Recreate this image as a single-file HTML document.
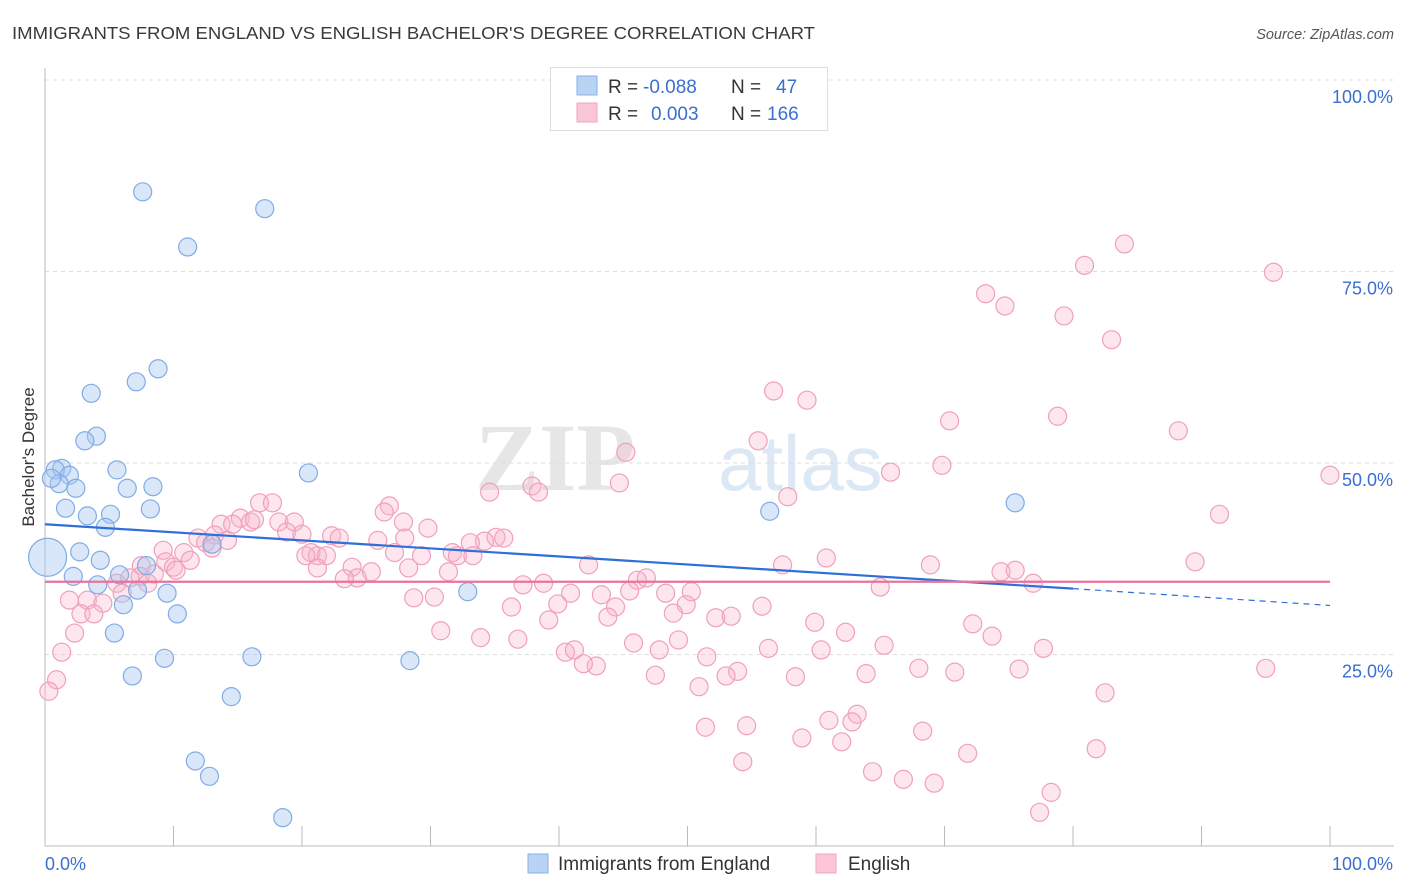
<!DOCTYPE html>
<html><head><meta charset="utf-8"><style>
body{margin:0;background:#fff;font-family:"Liberation Sans",sans-serif}
svg{display:block}
</style></head><body>
<svg id="chart" width="1406" height="892" viewBox="0 0 1406 892">
<text x="12" y="39" font-size="17.5" fill="#3a3a3a" textLength="803" lengthAdjust="spacingAndGlyphs">IMMIGRANTS FROM ENGLAND VS ENGLISH BACHELOR'S DEGREE CORRELATION CHART</text>
<text x="1394" y="39" font-size="14.5" fill="#555" font-style="italic" text-anchor="end">Source: ZipAtlas.com</text>
<g>
<text x="635" y="490" font-size="96" font-family="Liberation Serif,serif" fill="#e6e6e6" text-anchor="end" font-weight="bold">ZIP</text>
<text x="718" y="490" font-size="78" fill="#dde8f5">atlas</text>
</g>
<g id="grid"></g>
<g id="axes"></g>
<text x="34" y="457" font-size="17" fill="#333" text-anchor="middle" transform="rotate(-90 34 457)">Bachelor's Degree</text>
<g id="pinkPts"></g>
<g id="bluePts"></g>
<g id="trends"></g>
<g>
<rect x="550.5" y="67.5" width="277" height="63" fill="#fff" stroke="#ddd"/>
<rect x="577" y="76" width="20" height="19" fill="#b9d3f5" stroke="#85b0e8"/>
<rect x="577" y="103" width="20" height="19" fill="#fbc6d6" stroke="#f0a5bd"/>
<text y="93" font-size="19" fill="#333"><tspan x="608">R =</tspan><tspan x="643" fill="#3a6fd0">-0.088</tspan><tspan x="731">N =</tspan><tspan x="776" fill="#3a6fd0">47</tspan></text>
<text y="120" font-size="19" fill="#333"><tspan x="608">R =</tspan><tspan x="651" fill="#3a6fd0">0.003</tspan><tspan x="731">N =</tspan><tspan x="767" fill="#3a6fd0">166</tspan></text>
</g>
<g>
<rect x="528" y="854" width="20" height="19" fill="#b9d3f5" stroke="#85b0e8"/>
<text x="558" y="870" font-size="19" fill="#333">Immigrants from England</text>
<rect x="816" y="854" width="20" height="19" fill="#fbc6d6" stroke="#f0a5bd"/>
<text x="848" y="870" font-size="19" fill="#333">English</text>
</g>
</svg>
<script>
const yTicks=[25,50,75,100];
const yTickLabels=["25.0%","50.0%","75.0%","100.0%"];
const xTickLabels=["0.0%","100.0%"];
const blueX=[7.6,17.1,11.1,8.8,7.1,3.6,4.0,3.1,1.3,0.8,1.9,1.1,2.4,5.6,6.4,8.4,20.5,1.6,3.3,5.1,8.2,4.7,2.7,4.3,2.2,5.8,7.9,4.1,7.2,9.5,6.1,10.3,5.4,9.3,16.1,6.8,14.5,11.7,12.8,18.5,28.4,32.9,13.0,56.4,75.5,0.2,0.5];
const blueY=[85.4,83.2,78.2,62.3,60.6,59.1,53.5,52.9,49.3,49.1,48.4,47.3,46.7,49.1,46.7,46.9,48.7,44.1,43.1,43.3,44.0,41.6,38.4,37.3,35.2,35.4,36.6,34.1,33.4,33.0,31.5,30.3,27.8,24.5,24.7,22.2,19.5,11.1,9.1,3.7,24.2,33.2,39.4,43.7,44.8,37.7,48.0];
const pinkX=[84.0,80.9,95.6,73.2,74.7,79.3,83.0,56.7,59.3,70.4,78.8,88.2,55.5,45.2,69.8,65.8,44.7,100,34.6,37.9,38.4,57.8,91.4,16.7,17.7,26.8,26.4,15.2,13.7,14.6,16.0,16.3,18.2,19.4,27.9,29.8,18.8,20.0,22.3,22.9,25.9,28.0,11.9,13.2,12.5,14.2,13.0,35.1,35.7,34.2,33.1,9.2,10.8,20.7,21.2,21.9,20.3,27.2,29.3,31.7,32.1,33.3,9.4,10.0,7.5,11.3,60.8,42.3,57.4,68.9,89.5,23.9,25.4,21.2,28.3,31.4,7.4,8.5,10.2,5.6,6.6,8.0,24.3,23.3,38.8,37.2,46.1,46.8,74.4,75.5,76.9,65.0,50.3,48.3,45.5,40.9,43.3,28.7,30.3,1.9,3.3,4.5,6.0,39.9,44.4,49.9,36.3,55.8,2.8,3.8,48.9,43.8,52.2,53.4,39.2,59.9,72.2,30.8,2.3,62.3,49.3,45.8,33.9,36.8,73.7,77.7,56.3,65.3,47.8,60.4,40.5,41.2,51.5,95.0,1.3,42.9,41.9,53.9,68.0,75.8,47.5,53.0,63.9,70.8,58.4,0.9,50.9,0.3,82.5,54.6,63.2,61.0,62.8,51.4,68.3,58.9,62.0,81.8,71.8,54.3,64.4,66.8,69.2,78.3,77.4];
const pinkY=[78.6,75.8,74.9,72.1,70.5,69.2,66.1,59.4,58.2,55.5,56.1,54.2,52.9,51.4,49.7,48.8,47.4,48.4,46.2,47.0,46.2,45.6,43.3,44.8,44.8,44.4,43.6,42.8,42.0,42.0,42.3,42.6,42.3,42.3,42.3,41.5,41.0,40.7,40.5,40.2,39.9,40.2,40.2,40.6,39.6,39.9,38.9,40.3,40.2,39.8,39.6,38.6,38.3,38.3,37.9,37.9,37.9,38.3,37.9,38.3,37.9,37.9,37.1,36.4,36.6,37.3,37.6,36.7,36.7,36.7,37.1,36.4,35.8,36.3,36.3,35.8,35.2,35.5,36.0,34.3,35.0,34.3,35.0,34.9,34.3,34.1,34.7,35.0,35.8,36.0,34.3,33.8,33.2,33.0,33.3,33.0,32.8,32.4,32.5,32.1,32.1,31.7,33.0,31.6,31.2,31.5,31.2,31.3,30.3,30.3,30.4,29.9,29.8,30.0,29.5,29.2,29.0,28.1,27.8,27.9,26.9,26.5,27.2,27.0,27.4,25.8,25.8,26.2,25.6,25.6,25.3,25.6,24.7,23.2,25.3,23.5,23.8,22.8,23.2,23.1,22.3,22.2,22.5,22.7,22.1,21.7,20.8,20.2,20.0,15.7,17.2,16.4,16.2,15.5,15.0,14.1,13.6,12.7,12.1,11.0,9.7,8.7,8.2,7.0,4.4];
const blueTrend=[42.0,33.6,31.4];
const blueTrendX=[0,80,100];
const pinkTrend=[34.5,34.5];

const NS="http://www.w3.org/2000/svg";
const X0=45,X1=1330,Y0=846,Y100=80;
const sx=v=>X0+(X1-X0)*v/100;
const sy=v=>Y0-(Y0-Y100)*v/100;
function mk(tag,attrs,parent){const e=document.createElementNS(NS,tag);for(const k in attrs)e.setAttribute(k,attrs[k]);parent.appendChild(e);return e;}
const grid=document.getElementById('grid'),axes=document.getElementById('axes');
yTicks.forEach((t,i)=>{
  const l=mk('line',{x1:45,x2:1394,y1:sy(t),y2:sy(t),stroke:'#ddd','stroke-dasharray':'4,4'},grid);
  
  
  const tx=mk('text',{x:1393,y:sy(t)+23,'font-size':18,fill:'#3a6fd0','text-anchor':'end'},axes);
  tx.textContent=yTickLabels[i];
  
  
});
mk('line',{x1:45,x2:45,y1:68,y2:846,stroke:'#bbb'},axes);
mk('line',{x1:45,x2:1394,y1:846,y2:846,stroke:'#bbb'},axes);
for(let i=1;i<=10;i++){const t=mk('line',{x1:sx(i*10),x2:sx(i*10),y1:826,y2:846,stroke:'#bbb'},axes);
  
  }
const xl0=mk('text',{x:45,y:870,'font-size':18,fill:'#3a6fd0'},axes);xl0.textContent=xTickLabels[0];


const xl1=mk('text',{x:1393,y:870,'font-size':18,fill:'#3a6fd0','text-anchor':'end'},axes);xl1.textContent=xTickLabels[1];


const pg=document.getElementById('pinkPts');
pinkX.forEach((x,i)=>{const c=mk('circle',{cx:sx(x),cy:sy(pinkY[i]),r:9,fill:'rgba(248,180,202,0.33)',stroke:'#f0a0bb','stroke-width':1.2},pg);
  
  });
const bg=document.getElementById('bluePts');
blueX.forEach((x,i)=>{const c=mk('circle',{cx:sx(x),cy:sy(blueY[i]),r:i===45?19:9,fill:'rgba(165,198,240,0.42)',stroke:'#80ace6','stroke-width':1.2},bg);
  
  });
const tg=document.getElementById('trends');
const b1=mk('line',{x1:sx(blueTrendX[0]),y1:sy(blueTrend[0]),x2:sx(blueTrendX[1]),y2:sy(blueTrend[1]),stroke:'#2e6fd8','stroke-width':2.2},tg);


const b2=mk('line',{x1:sx(blueTrendX[1]),y1:sy(blueTrend[1]),x2:sx(blueTrendX[2]),y2:sy(blueTrend[2]),stroke:'#2e6fd8','stroke-width':1.2,'stroke-dasharray':'6,5'},tg);


const p1=mk('line',{x1:sx(0),y1:sy(pinkTrend[0]),x2:sx(100),y2:sy(pinkTrend[1]),stroke:'#e8739c','stroke-width':2.2},tg);


</script>
</body></html>
